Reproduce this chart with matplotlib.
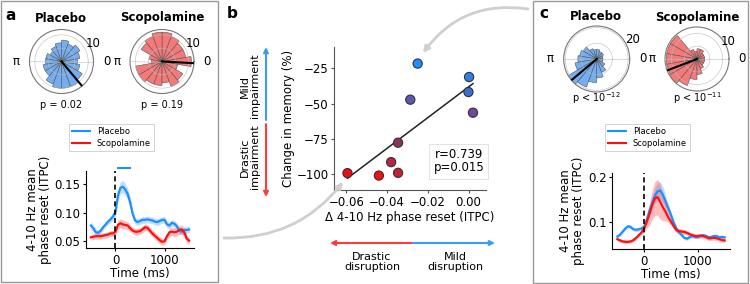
"""Scopolamine vs placebo phase reset figure (panels a, b, c)."""

import numpy as np
import matplotlib

matplotlib.use("Agg")
import matplotlib.pyplot as plt
from matplotlib.lines import Line2D
from matplotlib.patches import FancyArrowPatch, Rectangle

# ---- data -------------------------------------------------------------
bin_deg = np.arange(0, 360, 20)

a_pla_counts = [6, 7, 8, 7, 8, 7, 6, 5, 6, 6, 7, 7, 9, 10, 10, 10, 9, 7]
a_sco_counts = [11, 9, 9, 10, 11, 11, 10, 9, 5, 4, 10, 10, 9, 9, 8, 10, 9, 6]
c_pla_counts = [4, 4, 5, 5, 6, 6, 7, 10, 11, 12, 14, 21, 19, 15, 12, 9, 6, 4]
c_sco_counts = [3, 3, 3, 4, 4, 3, 4, 12, 12, 12, 12, 12.5, 11, 8, 6, 4, 3, 3]
mean_angle_deg = {"a_pla": -50, "a_sco": -3, "c_pla": 220, "c_sco": 201}
p_labels = ["p = 0.02", "p = 0.19", r"p < 10$^{-12}$", r"p < 10$^{-11}$"]

t_ms = np.arange(-500, 1501, 50)
a_pla = [0.077, 0.072, 0.065, 0.064, 0.068, 0.074, 0.079, 0.084, 0.088, 0.093, 0.101,
         0.130, 0.144, 0.146, 0.141, 0.133, 0.118, 0.098, 0.086, 0.083, 0.085,
         0.087, 0.087, 0.088, 0.087, 0.086, 0.084, 0.083, 0.085, 0.087, 0.087,
         0.079, 0.077, 0.082, 0.080, 0.076, 0.068, 0.066, 0.069, 0.069, 0.070]
a_pla_sem = [0.007, 0.006, 0.006, 0.005, 0.005, 0.005, 0.005, 0.005, 0.006, 0.007, 0.008,
             0.010, 0.011, 0.011, 0.011, 0.010, 0.009, 0.007, 0.006, 0.006, 0.006,
             0.006, 0.006, 0.006, 0.006, 0.006, 0.006, 0.006, 0.006, 0.006, 0.006,
             0.006, 0.006, 0.006, 0.006, 0.006, 0.006, 0.006, 0.006, 0.006, 0.006]
a_sco = [0.056, 0.057, 0.058, 0.058, 0.058, 0.059, 0.060, 0.061, 0.063, 0.063, 0.066,
         0.078, 0.081, 0.079, 0.078, 0.077, 0.072, 0.068, 0.066, 0.066, 0.067,
         0.070, 0.074, 0.073, 0.068, 0.063, 0.059, 0.055, 0.051, 0.048, 0.049,
         0.058, 0.065, 0.066, 0.065, 0.066, 0.069, 0.070, 0.065, 0.054, 0.050]
a_sco_sem = [0.005, 0.005, 0.005, 0.005, 0.005, 0.005, 0.005, 0.005, 0.005, 0.005, 0.006,
             0.008, 0.008, 0.008, 0.007, 0.007, 0.006, 0.006, 0.006, 0.006, 0.006,
             0.006, 0.006, 0.006, 0.006, 0.006, 0.006, 0.006, 0.006, 0.006, 0.006,
             0.006, 0.007, 0.007, 0.008, 0.008, 0.008, 0.008, 0.008, 0.007, 0.006]
c_pla = [0.067, 0.071, 0.078, 0.085, 0.090, 0.088, 0.083, 0.082, 0.083, 0.085, 0.089,
         0.105, 0.125, 0.142, 0.158, 0.168, 0.170, 0.160, 0.145, 0.130, 0.115,
         0.098, 0.085, 0.076, 0.070, 0.064, 0.062, 0.066, 0.068, 0.066, 0.066,
         0.068, 0.070, 0.068, 0.065, 0.066, 0.068, 0.068, 0.065, 0.066, 0.065]
c_pla_sem = [0.004, 0.004, 0.004, 0.004, 0.004, 0.004, 0.004, 0.004, 0.004, 0.004, 0.005,
             0.008, 0.012, 0.015, 0.018, 0.020, 0.020, 0.018, 0.014, 0.010, 0.008,
             0.006, 0.005, 0.004, 0.004, 0.004, 0.004, 0.004, 0.004, 0.004, 0.004,
             0.004, 0.004, 0.004, 0.004, 0.004, 0.004, 0.004, 0.004, 0.004, 0.004]
c_sco = [0.061, 0.058, 0.056, 0.055, 0.055, 0.056, 0.059, 0.064, 0.070, 0.076, 0.085,
         0.100, 0.118, 0.138, 0.152, 0.155, 0.144, 0.132, 0.122, 0.110, 0.100,
         0.090, 0.081, 0.079, 0.078, 0.077, 0.075, 0.072, 0.070, 0.068, 0.068,
         0.069, 0.068, 0.066, 0.063, 0.063, 0.064, 0.063, 0.061, 0.059, 0.058]
c_sco_sem = [0.004, 0.004, 0.004, 0.004, 0.004, 0.004, 0.004, 0.004, 0.004, 0.005, 0.008,
             0.015, 0.025, 0.033, 0.038, 0.040, 0.038, 0.030, 0.020, 0.012, 0.008,
             0.006, 0.006, 0.006, 0.006, 0.006, 0.005, 0.005, 0.005, 0.005, 0.005,
             0.005, 0.005, 0.005, 0.005, 0.005, 0.005, 0.005, 0.005, 0.005, 0.005]
sig_window_ms = [50, 300]

delta_itpc = [-0.025, 0.0002, -0.0001, -0.0286, 0.0021, -0.0346, -0.038, -0.0346, -0.044, -0.0594]
memory_change = [-21.7, -31.2, -41.8, -47.2, -56.4, -77.6, -91.3, -98.9, -100.8, -99.1]
point_colors = ["#1e8fff", "#2f7fe6", "#3a6fd2", "#5a58b2", "#6d4a98", "#8c3262",
                "#b42644", "#c61e38", "#ff0a0a", "#f00a14"]
r_text = "r=0.739\np=0.015"

BLUE = "#1e8fff"
RED = "#ff1010"
BAR_BLUE = "#74aef0"
BAR_RED = "#f47a7a"

W, H = 750, 284


def fpos(x, y):
    return x / W, 1 - y / H


def axes_px(fig, left, top, right, bottom, **kw):
    return fig.add_axes([left / W, 1 - bottom / H, (right - left) / W, (bottom - top) / H], **kw)


def rose(fig, cx, cy, rad, counts, color, angle, rmax, rticks, rlab):
    ax = axes_px(fig, cx - rad, cy - rad, cx + rad, cy + rad, projection="polar")
    theta = np.deg2rad(bin_deg)
    ax.bar(theta, counts, width=np.deg2rad(20), color=color, edgecolor="#555555",
           linewidth=0.4, zorder=2)
    ax.plot([np.deg2rad(angle)] * 2, [0, rmax], color="black", lw=1.5, zorder=4)
    ax.set_axisbelow(False)
    ax.set_ylim(0, rmax)
    ax.set_rticks(rticks)
    ax.set_yticklabels(rlab, fontsize=8.5)
    ax.set_rlabel_position(25)
    ax.set_thetagrids([0, 180], ["0", "π"], fontsize=8.5)
    ax.tick_params(axis="x", pad=-1)
    ax.grid(color="#bbbbbb", lw=0.5, alpha=0.8)
    ax.spines["polar"].set_color("#777777")
    ax.spines["polar"].set_linewidth(0.8)
    return ax


def itpc_axes(fig, box, pla, pla_sem, sco, sco_sem, ylim, yticks, yfmt, sig=None):
    ax = axes_px(fig, *box)
    for vals, sem, col in [(pla, pla_sem, BLUE), (sco, sco_sem, RED)]:
        vals = np.asarray(vals)
        sem = np.asarray(sem)
        ax.fill_between(t_ms, vals - sem, vals + sem, color=col, alpha=0.28, lw=0)
        ax.plot(t_ms, vals, color=col, lw=1.6)
    ax.axvline(0, color="black", ls="--", lw=1.2, dashes=(3, 2))
    if sig is not None:
        ax.plot(sig, [ylim[1] + 0.006] * 2, color=BLUE, lw=1.5, clip_on=False)
    ax.set_xlim(-600, 1600)
    ax.set_ylim(*ylim)
    ax.set_xticks([0, 1000])
    ax.set_yticks(yticks)
    ax.set_yticklabels([yfmt.format(v) for v in yticks])
    ax.tick_params(labelsize=8.5, length=2.5, pad=1.5)
    for side in ["top", "right"]:
        ax.spines[side].set_visible(False)
    ax.set_xlabel("Time (ms)", fontsize=8.5, labelpad=0.5)
    ax.set_ylabel("4-10 Hz mean\nphase reset (ITPC)", fontsize=8.5, labelpad=2, linespacing=1.0)
    return ax


def legend_at(fig, x, y):
    handles = [Line2D([], [], color=BLUE, lw=1.5), Line2D([], [], color=RED, lw=1.5)]
    leg = fig.legend(handles, ["Placebo", "Scopolamine"], loc="center",
                     bbox_to_anchor=fpos(x, y), fontsize=6, handlelength=2.2,
                     borderpad=0.4, labelspacing=0.35, fancybox=False, framealpha=1)
    leg.get_frame().set_edgecolor("#cccccc")
    leg.get_frame().set_linewidth(0.6)


def arrow(fig, a, b, color, lw=1.5, scale=7, rad=0.0):
    fig.add_artist(FancyArrowPatch(fpos(*a), fpos(*b), transform=fig.transFigure,
                                   arrowstyle="-|>", mutation_scale=scale, color=color,
                                   lw=lw, connectionstyle=f"arc3,rad={rad}",
                                   shrinkA=0, shrinkB=0))


def main() -> None:
    fig = plt.figure(figsize=(W / 100, H / 100), dpi=100)

    # panel frames
    for x0, y0, x1, y1 in [(1, 1, 218, 282), (533, 1, 748, 283)]:
        fig.add_artist(Rectangle(fpos(x0, y1), (x1 - x0) / W, (y1 - y0) / H,
                                 transform=fig.transFigure, fill=False,
                                 edgecolor="#999999", lw=1))

    # panel a
    rose(fig, 61.5, 61.5, 32, a_pla_counts, BAR_BLUE, mean_angle_deg["a_pla"], 12, [5, 10], ["", "10"])
    rose(fig, 162, 61.5, 32, a_sco_counts, BAR_RED, mean_angle_deg["a_sco"], 12, [5, 10], ["", "10"])
    fig.text(*fpos(61, 18), "Placebo", ha="center", va="center", fontsize=8.5, weight="bold")
    fig.text(*fpos(162, 18), "Scopolamine", ha="center", va="center", fontsize=8.5, weight="bold")
    fig.text(*fpos(61, 105), p_labels[0], ha="center", va="center", fontsize=7)
    fig.text(*fpos(162, 105), p_labels[1], ha="center", va="center", fontsize=7)
    legend_at(fig, 111.5, 137.5)
    itpc_axes(fig, (86, 171, 194, 248), a_pla, a_pla_sem, a_sco, a_sco_sem,
              (0.037, 0.174), [0.05, 0.10, 0.15], "{:.2f}", sig=sig_window_ms)

    # panel c
    rose(fig, 596.7, 59, 33, c_pla_counts, BAR_BLUE, mean_angle_deg["c_pla"], 21, [10, 20], ["", "20"])
    rose(fig, 697, 59, 32, c_sco_counts, BAR_RED, mean_angle_deg["c_sco"], 12.5, [5, 10], ["", "10"])
    fig.text(*fpos(596, 17), "Placebo", ha="center", va="center", fontsize=8.5, weight="bold")
    fig.text(*fpos(697, 17), "Scopolamine", ha="center", va="center", fontsize=8.5, weight="bold")
    fig.text(*fpos(596, 98), p_labels[2], ha="center", va="center", fontsize=7)
    fig.text(*fpos(697, 98), p_labels[3], ha="center", va="center", fontsize=7)
    legend_at(fig, 647.5, 137.5)
    itpc_axes(fig, (612, 173, 730, 249), c_pla, c_pla_sem, c_sco, c_sco_sem,
              (0.039, 0.209), [0.1, 0.2], "{:.1f}")

    # panel b
    ax = axes_px(fig, 334, 47, 486, 190)
    x = np.asarray(delta_itpc)
    y = np.asarray(memory_change)
    slope, icept = np.polyfit(x, y, 1)
    xs = np.array([x.min(), x.max()])
    ax.plot(xs, slope * xs + icept, color="#222222", lw=1.1, zorder=2)
    ax.scatter(x, y, s=44, c=point_colors, edgecolors="#333333", linewidths=0.8, zorder=3)
    ax.set_xlim(-0.066, 0.0085)
    ax.set_ylim(-111, -10)
    xt = [-0.06, -0.04, -0.02, 0.0]
    ax.set_xticks(xt)
    ax.set_xticklabels([f"{v:.2f}".replace("-", "\u2212") for v in xt])
    yt = [-100, -75, -50, -25]
    ax.set_yticks(yt)
    ax.set_yticklabels([f"{v}".replace("-", "\u2212") for v in yt])
    ax.tick_params(labelsize=8.5, length=2.5, pad=1.5, color="#555555")
    for side in ["top", "right"]:
        ax.spines[side].set_visible(False)
    for side in ["left", "bottom"]:
        ax.spines[side].set_color("#555555")
    ax.set_xlabel("Δ 4-10 Hz phase reset (ITPC)", fontsize=8.5, labelpad=2)
    ax.set_ylabel("Change in memory (%)", fontsize=8.5, labelpad=1)
    ax.text(0.822, 0.2, r_text, transform=ax.transAxes, ha="center", va="center",
            fontsize=8.5, linespacing=1.0,
            bbox=dict(boxstyle="square,pad=0.35", fc="white", ec="#dddddd", lw=0.6))

    # side annotations for panel b
    arrow(fig, (266, 120), (266, 47), "#3a9bff")
    arrow(fig, (266, 124), (266, 197), "#ff3b3b")
    fig.text(*fpos(250, 86), "Mild\nimpairment", rotation=90, ha="center", va="center",
             fontsize=8, linespacing=1.0)
    fig.text(*fpos(250, 157), "Drastic\nimpairment", rotation=90, ha="center", va="center",
             fontsize=8, linespacing=1.0)
    arrow(fig, (412, 243), (330, 243), "#ff3b3b")
    arrow(fig, (413, 243), (495, 243), "#3a9bff")
    fig.text(*fpos(372, 262), "Drastic\ndisruption", ha="center", va="center",
             fontsize=8, linespacing=1.0)
    fig.text(*fpos(455, 262), "Mild\ndisruption", ha="center", va="center",
             fontsize=8, linespacing=1.0)

    # grey connector arrows
    arrow(fig, (528, 9), (423, 53), "#cfcfcf", lw=2, scale=9, rad=0.3)
    arrow(fig, (224, 238), (343, 182), "#cfcfcf", lw=2, scale=9, rad=0.25)

    # panel letters
    fig.text(*fpos(11, 15), "a", ha="center", va="center", fontsize=11, weight="bold")
    fig.text(*fpos(232, 14), "b", ha="center", va="center", fontsize=11, weight="bold")
    fig.text(*fpos(544, 13), "c", ha="center", va="center", fontsize=11, weight="bold")

    fig.savefig("out.png", dpi=100)
    plt.close(fig)


if __name__ == "__main__":
    main()
